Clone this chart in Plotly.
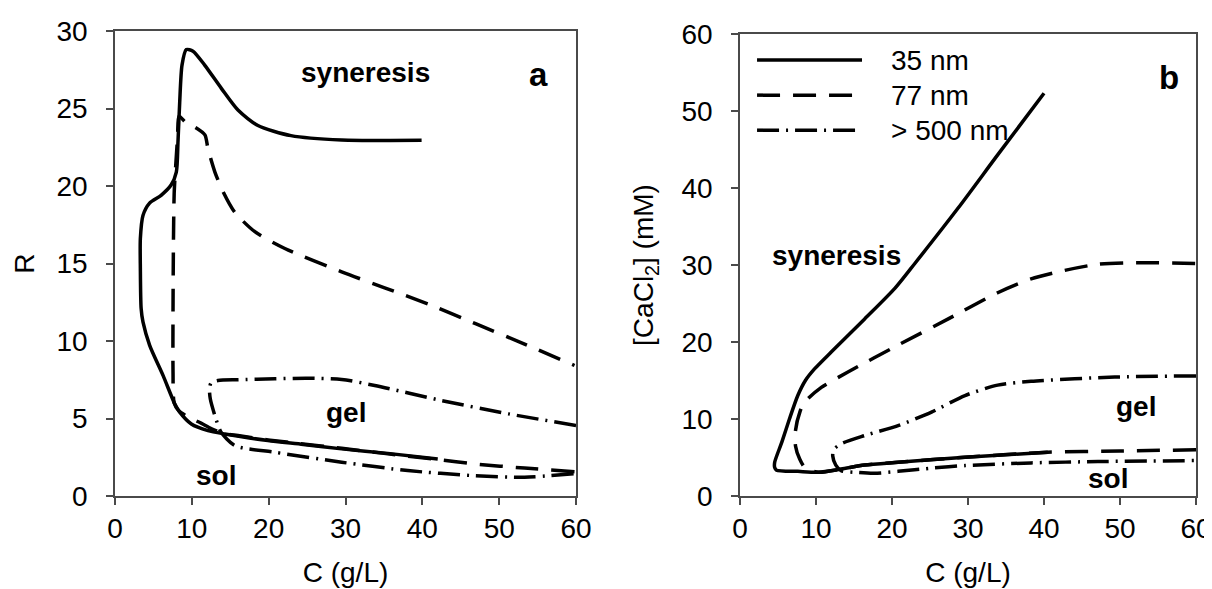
import plotly.graph_objects as go

# ---------------- data ----------------
# Panel a: R vs C (g/L)
a_35_C = [42.0, 35.5, 29.5, 24.5, 19.9, 16.5, 14.3, 12.1, 9.93, 8.42, 7.77, 6.25, 4.51, 3.64, 3.4,
          3.3, 3.3, 3.64, 4.5, 6.0, 7.3, 7.98, 8.2, 8.42, 8.72, 9.28, 10.15, 11.67, 13.84, 16.0,
          18.6, 22.9, 29.5, 39.9]
a_35_R = [2.39, 2.75, 3.04, 3.33, 3.58, 3.82, 4.0, 4.22, 4.65, 5.41, 5.95, 7.78, 9.72, 11.23, 12.1,
          14.7, 16.6, 18.1, 18.9, 19.4, 20.06, 20.9, 22.9, 25.4, 27.8, 28.8, 28.7, 27.8, 26.3, 24.9,
          23.9, 23.25, 22.97, 22.95]

a_77_C = [59.8, 53.3, 46.8, 42.0, 35.0, 29.5, 24.0, 19.9, 16.0, 14.0, 12.5, 11.2, 9.5, 8.3, 7.7,
          7.55, 7.55, 7.6, 7.7, 7.9, 8.15, 8.33, 9.3, 10.4, 11.7, 12.1, 13.0, 14.1, 15.6, 18.2,
          22.1, 29.5, 35.0, 41.2, 47.0, 53.3, 59.8]
a_77_R = [1.57, 1.8, 2.07, 2.35, 2.75, 3.08, 3.38, 3.62, 3.9, 4.05, 4.35, 4.7, 5.1, 5.5, 6.0,
          8.0, 12.0, 16.0, 19.5, 21.3, 23.2, 24.5, 24.05, 23.8, 23.3, 22.4, 20.9, 19.6, 18.3, 17.05,
          15.97, 14.46, 13.45, 12.3, 11.1, 9.8, 8.42]

a_500_C = [60.0, 51.2, 42.5, 33.8, 29.5, 25.0, 20.8, 16.0, 13.4, 12.5, 12.3, 12.4, 13.0, 13.8,
           15.6, 20.8, 29.5, 38.1, 46.8, 53.3, 60.0]
a_500_R = [4.55, 5.3, 6.16, 7.13, 7.52, 7.6, 7.56, 7.5, 7.45, 7.3, 6.9, 6.27, 5.19, 4.12,
           3.25, 2.82, 2.18, 1.64, 1.31, 1.21, 1.45]

# Panel b: [CaCl2] (mM) vs C (g/L)
b_35_C = [40.5, 35.0, 29.6, 25.0, 20.8, 16.4, 13.3, 10.3, 7.6, 4.8, 4.56, 4.56, 5.5, 6.5, 7.6,
          8.6, 9.8, 12.0, 16.4, 20.4, 23.0, 28.7, 33.9, 40.0]
b_35_V = [5.68, 5.35, 5.03, 4.7, 4.38, 4.03, 3.5, 3.08, 3.2, 3.35, 3.7, 4.38, 7.0, 10.0, 13.05,
          15.0, 16.5, 18.7, 23.0, 27.0, 30.2, 37.4, 44.3, 52.3]

b_77_C = [60.0, 50.0, 40.5, 29.6, 20.8, 16.4, 13.3, 10.3, 8.6, 7.85, 7.3, 7.3, 7.9, 8.5, 10.7,
          14.2, 20.8, 27.4, 33.9, 38.3, 42.7, 47.1, 51.5, 60.0]
b_77_V = [6.0, 5.85, 5.68, 5.03, 4.38, 4.03, 3.5, 3.08, 3.6, 4.8, 6.5, 8.5, 11.0, 12.2, 14.1,
          16.1, 19.6, 23.0, 26.4, 28.2, 29.3, 30.1, 30.3, 30.2]

b_500_C = [60.0, 49.3, 38.3, 33.9, 29.6, 25.2, 20.8, 16.4, 13.3, 12.3, 12.2, 12.6, 13.3, 15.5,
           17.7, 20.8, 25.0, 29.6, 38.3, 47.1, 60.0]
b_500_V = [15.6, 15.45, 14.9, 14.4, 13.05, 10.9, 9.15, 7.85, 6.77, 6.0, 5.2, 4.0, 3.3, 3.05,
           2.95, 3.2, 3.6, 3.95, 4.3, 4.47, 4.6]

series_names = ["35 nm", "77 nm", "> 500 nm"]
dash_styles = ["solid", "23px,13px", "22px,7px,2px,7px"]

x_ticks = [0, 10, 20, 30, 40, 50, 60]
ya_ticks = [0, 5, 10, 15, 20, 25, 30]
yb_ticks = [0, 10, 20, 30, 40, 50, 60]

# ---------------- figure ----------------
FONT = "Liberation Sans, Arial, sans-serif"
LW = 3.5
fig = go.Figure()

panel_a = [(a_35_C, a_35_R), (a_77_C, a_77_R), (a_500_C, a_500_R)]
panel_b = [(b_35_C, b_35_V), (b_77_C, b_77_V), (b_500_C, b_500_V)]

for i, (cx, cy) in enumerate(panel_a):
    fig.add_trace(go.Scatter(x=cx, y=cy, mode="lines", name=series_names[i], showlegend=False,
                             line=dict(color="black", width=LW, dash=dash_styles[i],
                                       shape="spline", smoothing=0.7),
                             xaxis="x", yaxis="y"))
for i, (cx, cy) in enumerate(panel_b):
    fig.add_trace(go.Scatter(x=cx, y=cy, mode="lines", name=series_names[i], showlegend=False,
                             line=dict(color="black", width=LW, dash=dash_styles[i],
                                       shape="spline", smoothing=0.7),
                             xaxis="x2", yaxis="y2"))

axis_common = dict(showline=True, linecolor="#4a4a4a", linewidth=1.5, mirror=True,
                   ticks="outside", ticklen=7, tickcolor="#4a4a4a", tickwidth=1.5,
                   showgrid=False, zeroline=False, automargin=False,
                   tickfont=dict(family=FONT, size=28, color="black"))

fig.update_layout(
    width=1212, height=589,
    margin=dict(l=107, r=24, t=23, b=101),
    paper_bgcolor="white", plot_bgcolor="white",
    font=dict(family=FONT, size=28, color="black"),
    xaxis=dict(domain=[0, 0.4265], range=[0, 60], tickvals=x_ticks, ticklabelstandoff=0,
               title=dict(text="C (g/L)", font=dict(family=FONT, size=28), standoff=19),
               anchor="y", **axis_common),
    yaxis=dict(domain=[0, 1], range=[0, 30], tickvals=ya_ticks, ticklabelstandoff=13,
               title=dict(text="R", font=dict(family=FONT, size=28), standoff=14),
               anchor="x", **axis_common),
    xaxis2=dict(domain=[0.5782, 1], range=[0, 60], tickvals=x_ticks, ticklabelstandoff=0,
                title=dict(text="C (g/L)", font=dict(family=FONT, size=28), standoff=19),
                anchor="y2", **axis_common),
    yaxis2=dict(domain=[0, 0.9935], range=[0, 60], tickvals=yb_ticks, ticklabelstandoff=13,
                title=dict(text="[CaCl<sub>2</sub>] (mM)", font=dict(family=FONT, size=28), standoff=20),
                anchor="x2", **axis_common),
)

bold = dict(family=FONT, size=28, color="black")
big = dict(family=FONT, size=33, color="black")
ann = [
    dict(x=32.6, y=27.3, xref="x", yref="y", text="<b>syneresis</b>", font=bold),
    dict(x=55.1, y=27.2, xref="x", yref="y", text="<b>a</b>", font=big),
    dict(x=30.1, y=5.4, xref="x", yref="y", text="<b>gel</b>", font=bold),
    dict(x=13.2, y=1.3, xref="x", yref="y", text="<b>sol</b>", font=bold),
    dict(x=12.7, y=31.2, xref="x2", yref="y2", text="<b>syneresis</b>", font=bold),
    dict(x=56.4, y=54.3, xref="x2", yref="y2", text="<b>b</b>", font=big),
    dict(x=52.1, y=11.6, xref="x2", yref="y2", text="<b>gel</b>", font=bold),
    dict(x=48.4, y=2.3, xref="x2", yref="y2", text="<b>sol</b>", font=bold),
]
for a in ann:
    fig.add_annotation(showarrow=False, xanchor="center", yanchor="middle", **a)

# legend (drawn inside panel b)
leg_y = [0.9436, 0.8677, 0.7918]
for i, name in enumerate(series_names):
    fig.add_shape(type="line", xref="x2 domain", yref="y2 domain",
                  x0=0.0373, x1=0.2675, y0=leg_y[i], y1=leg_y[i],
                  line=dict(color="black", width=LW, dash=dash_styles[i]))
    fig.add_annotation(x=0.3268, y=leg_y[i], xref="x2 domain", yref="y2 domain",
                       text=name, showarrow=False, xanchor="left", yanchor="middle",
                       font=dict(family=FONT, size=28, color="black"))

fig.write_html("out.html")
